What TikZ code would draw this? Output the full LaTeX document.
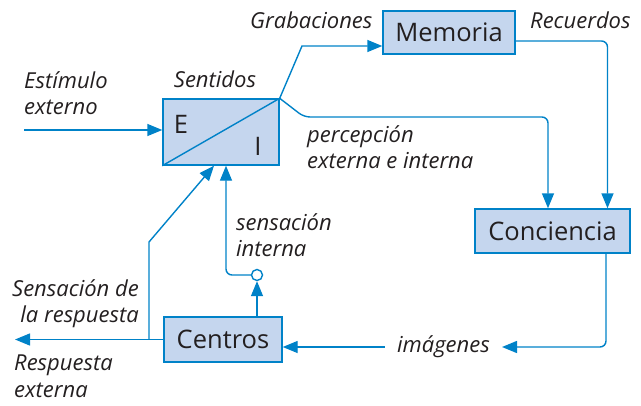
\documentclass[tikz,border=0pt]{standalone}
\usepackage{fontspec}
\setmainfont{Open Sans}
\usepackage{xcolor}
\usetikzlibrary{arrows.meta,positioning}
\definecolor{mindblue}{RGB}{0,130,200}
\definecolor{mindfill}{RGB}{197,214,238}
\definecolor{mindtext}{RGB}{35,31,32}
\tikzset{
  mindbox/.style={draw=mindblue, line width=1.4pt, fill=mindfill, text=mindtext,
    inner sep=0pt, font=\fontsize{25.5}{30}\selectfont},
  mindlbl/.style={text=mindtext, font=\fontsize{22}{26.5}\selectfont\itshape, inner sep=0pt},
  mindarr/.style={draw=mindblue, line width=1.4pt, -{Triangle[length=15pt,width=12pt]}},
  mindline/.style={draw=mindblue, line width=1.4pt}
}

\begin{document}
\begin{tikzpicture}[x=1pt,y=-1pt]
\useasboundingbox (0,0) rectangle (641,405);
% boxes
\node[mindbox, minimum width=116pt, minimum height=66pt] (sent) at (221,132) {};
\draw[mindline] (sent.south west) -- (sent.north east);
\node[text=mindtext, font=\fontsize{25.5}{30}\selectfont] (letE) at (181,124) {E};
\node[text=mindtext, font=\fontsize{25.5}{30}\selectfont] (letI) at (258,146) {I};
\node[mindbox, minimum width=132pt, minimum height=43pt] (mem) at (449,32.5) {Memoria};
\node[mindbox, minimum width=155pt, minimum height=44pt] (con) at (552.5,231) {Conciencia};
\node[mindbox, minimum width=118pt, minimum height=45pt] (cen) at (223,339.5) {Centros};
\node[draw=mindblue, line width=1.4pt, fill=white, circle, minimum size=11pt, inner sep=0pt] (circ) at (257,275) {};
% labels
\node[mindlbl, anchor=north west, align=left] (estim) at (24,71) {Estímulo\\externo};
\node[mindlbl, anchor=south] (sentl) at (215,88) {Sentidos};
\node[mindlbl, anchor=south west] (grab) at (250,29) {Grabaciones};
\node[mindlbl, anchor=south west] (recu) at (530,29) {Recuerdos};
\node[mindlbl, anchor=north west, align=left] (perc) at (307,125) {percepción\\externa e interna};
\node[mindlbl, anchor=north west, align=left] (sint) at (236,213) {sensación\\interna};
\node[mindlbl, anchor=north east, align=right] (sres) at (139,279) {Sensación de\\la respuesta};
\node[mindlbl, anchor=north west, align=left] (rext) at (14,355) {Respuesta\\externa};
\node[mindlbl, anchor=east, inner xsep=12pt] (img) at (502,347) {imágenes};
% connectors
\coordinate (inp) at (24,130);
\coordinate (gk) at (302,46);
\coordinate (pk) at (304,117);
\coordinate (outp) at (15,339.5);
\coordinate (br) at (149,339.5);
\coordinate (bk) at (149,242);
\draw[mindarr] (inp) -- (inp -| sent.west);
\draw[mindarr] (sent.north east) -- (gk) -- (gk -| mem.west);
\draw[mindarr, rounded corners=6pt] (sent.north east) -- (pk) -| ([xshift=-4.5pt]con.north);
\draw[mindarr, rounded corners=6pt] ([yshift=-8.5pt]mem.east) -| ([xshift=55pt]con.north);
\draw[mindarr, rounded corners=6pt] ([xshift=53.5pt]con.south) |- (img.east);
\draw[mindarr] (img.west) -- (img.west -| cen.east);
\draw[mindarr] (cen.west) -- (outp);
\draw[mindarr] (br) -- (bk) -- ([xshift=-7pt]sent.south);
\draw[mindarr] (circ.south |- cen.north) -- (circ.south);
\draw[mindarr, rounded corners=6pt] (circ.west) -| ([xshift=5pt]sent.south);
\end{tikzpicture}
\end{document}
